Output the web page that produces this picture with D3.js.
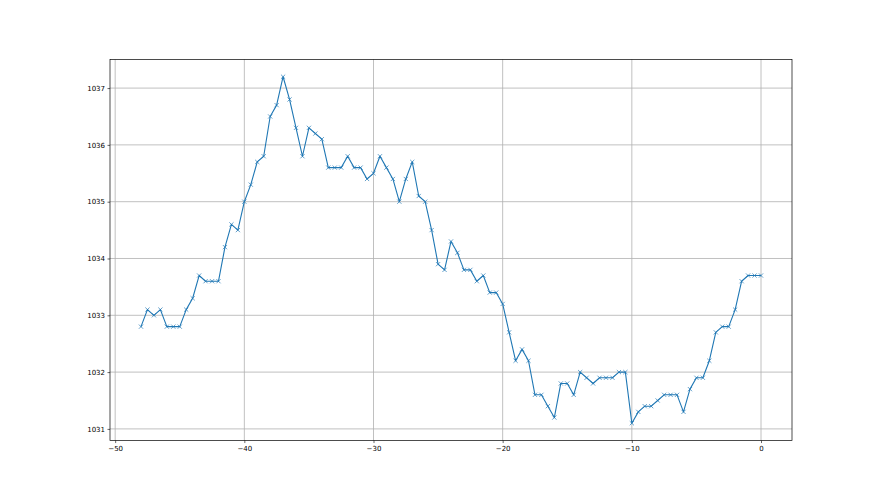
<!DOCTYPE html>
<html>
<head>
<meta charset="utf-8">
<script src="https://cdn.jsdelivr.net/npm/d3@7"></script>
<style>
	body { margin: 0; background: #fff; }
	.tick text { font-family: "DejaVu Sans", sans-serif; font-size: 7px; fill: #000; }
	.grid line { stroke: #b0b0b0; stroke-width: 0.8; }
</style>
</head>
<body>
<div id="picture"></div>
<script>
// x positions: -48 .. 0, every half step
const xs = [
	-48, -47.5, -47, -46.5, -46, -45.5, -45, -44.5, -44, -43.5,
	-43, -42.5, -42, -41.5, -41, -40.5, -40, -39.5, -39, -38.5,
	-38, -37.5, -37, -36.5, -36, -35.5, -35, -34.5, -34, -33.5,
	-33, -32.5, -32, -31.5, -31, -30.5, -30, -29.5, -29, -28.5,
	-28, -27.5, -27, -26.5, -26, -25.5, -25, -24.5, -24, -23.5,
	-23, -22.5, -22, -21.5, -21, -20.5, -20, -19.5, -19, -18.5,
	-18, -17.5, -17, -16.5, -16, -15.5, -15, -14.5, -14, -13.5,
	-13, -12.5, -12, -11.5, -11, -10.5, -10, -9.5, -9, -8.5,
	-8, -7.5, -7, -6.5, -6, -5.5, -5, -4.5, -4, -3.5,
	-3, -2.5, -2, -1.5, -1, -0.5, 0
];
const values = [
	1032.8, 1033.1, 1033.0, 1033.1, 1032.8, 1032.8, 1032.8, 1033.1, 1033.3, 1033.7,
	1033.6, 1033.6, 1033.6, 1034.2, 1034.6, 1034.5, 1035.0, 1035.3, 1035.7, 1035.8,
	1036.5, 1036.7, 1037.2, 1036.8, 1036.3, 1035.8, 1036.3, 1036.2, 1036.1, 1035.6,
	1035.6, 1035.6, 1035.8, 1035.6, 1035.6, 1035.4, 1035.5, 1035.8, 1035.6, 1035.4,
	1035.0, 1035.4, 1035.7, 1035.1, 1035.0, 1034.5, 1033.9, 1033.8, 1034.3, 1034.1,
	1033.8, 1033.8, 1033.6, 1033.7, 1033.4, 1033.4, 1033.2, 1032.7, 1032.2, 1032.4,
	1032.2, 1031.6, 1031.6, 1031.4, 1031.2, 1031.8, 1031.8, 1031.6, 1032.0, 1031.9,
	1031.8, 1031.9, 1031.9, 1031.9, 1032.0, 1032.0, 1031.1, 1031.3, 1031.4, 1031.4,
	1031.5, 1031.6, 1031.6, 1031.6, 1031.3, 1031.7, 1031.9, 1031.9, 1032.2, 1032.7,
	1032.8, 1032.8, 1033.1, 1033.6, 1033.7, 1033.7, 1033.7
];
const xTicks = [-50, -40, -30, -20, -10, 0];
const yTicks = [1031, 1032, 1033, 1034, 1035, 1036, 1037];

const width  = 880
	, height = 495
	, margin = { top: 59.4, left: 110, right: 88, bottom: 54.45 }
	, w = width - margin.left - margin.right
	, h = height - margin.top - margin.bottom;

const data = xs.map((x, i) => ({ x: x, y: values[i] }));

// 5% padding like matplotlib autoscale
const xExt = d3.extent(xs), yExt = d3.extent(values)
	, xPad = (xExt[1] - xExt[0]) * 0.05
	, yPad = (yExt[1] - yExt[0]) * 0.05;

const x = d3.scaleLinear()
	.domain([xExt[0] - xPad, xExt[1] + xPad])
	.range([0, w]);
const y = d3.scaleLinear()
	.domain([yExt[0] - yPad, yExt[1] + yPad])
	.range([h, 0]);

const svg = d3.select("#picture")
	.append("svg")
		.attr("width", width)
		.attr("height", height)
	.append("g")
		.attr("transform", "translate(" + margin.left + "," + margin.top + ")");

// grid
svg.append("g")
	.attr("class", "grid")
	.selectAll("line.gx")
	.data(xTicks)
	.join("line")
		.attr("x1", d => x(d)).attr("x2", d => x(d))
		.attr("y1", 0).attr("y2", h);
svg.append("g")
	.attr("class", "grid")
	.selectAll("line.gy")
	.data(yTicks)
	.join("line")
		.attr("x1", 0).attr("x2", w)
		.attr("y1", d => y(d)).attr("y2", d => y(d));

// line
const color = "#1f77b4";
svg.append("path")
	.datum(data)
	.attr("fill", "none")
	.attr("stroke", color)
	.attr("stroke-width", 1.1)
	.attr("stroke-linejoin", "round")
	.attr("d", d3.line().x(d => x(d.x)).y(d => y(d.y)));

// x markers
const m = 2.1;
svg.append("g")
	.selectAll("path")
	.data(data)
	.join("path")
		.attr("fill", "none")
		.attr("stroke", color)
		.attr("stroke-width", 0.7)
		.attr("d", d => {
			const cx = x(d.x), cy = y(d.y);
			return "M" + (cx - m) + "," + (cy - m) + "L" + (cx + m) + "," + (cy + m) +
				"M" + (cx - m) + "," + (cy + m) + "L" + (cx + m) + "," + (cy - m);
		});

// axes
const fmt = d => d < 0 ? "\u2212" + Math.abs(d) : d;
const xAxis = svg.append("g")
	.attr("transform", "translate(0," + h + ")")
	.call(d3.axisBottom(x).tickValues(xTicks).tickSize(2.5).tickPadding(2.5).tickFormat(fmt));
const yAxis = svg.append("g")
	.call(d3.axisLeft(y).tickValues(yTicks).tickSize(2.5).tickPadding(2.5).tickFormat(d3.format("d")));
[xAxis, yAxis].forEach(a => {
	a.select(".domain").remove();
	a.selectAll(".tick line").attr("stroke", "#000").attr("stroke-width", 0.6);
});

// frame
svg.append("rect")
	.attr("width", w)
	.attr("height", h)
	.attr("fill", "none")
	.attr("stroke", "#000")
	.attr("stroke-width", 0.7);
</script>
</body>
</html>
